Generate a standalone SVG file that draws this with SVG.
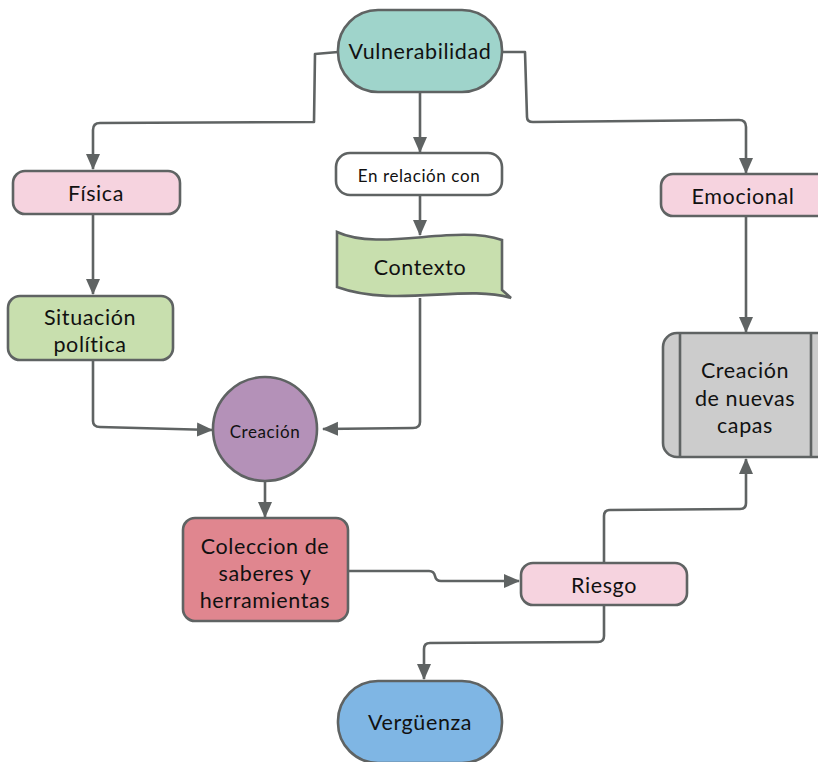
<svg xmlns="http://www.w3.org/2000/svg" width="818" height="762" viewBox="0 0 818 762">
  <style>
    .node { stroke: #5f6363; stroke-width: 2.6; }
    .edge { fill: none; stroke: #5f6363; stroke-width: 2.6; stroke-linejoin: round; }
    .lbl { font-family: Lato, "Noto Sans", "Liberation Sans", sans-serif; fill: #111; text-anchor: middle; dominant-baseline: central; letter-spacing: 0.6px; }
    .l20 { font-size: 21.5px; }
    .l16 { font-size: 17px; }
    .l14 { font-size: 17px; }
  </style>
  <defs>
    <marker id="arrow" markerUnits="userSpaceOnUse" markerWidth="16" markerHeight="16" viewBox="0 0 16 16" refX="15" refY="8" orient="auto">
      <path d="M0,1 L16,8 L0,15 Z" fill="#5f6363"/>
    </marker>
  </defs>

  <rect width="818" height="762" fill="#ffffff"/>

  <!-- connectors -->
  <g id="connectors">
    <path class="edge" d="M338,52 L315,54 L314,122 L100,123 Q93,123 93,130 L93,169" marker-end="url(#arrow)"/>
    <path class="edge" d="M420,92 L420,152" marker-end="url(#arrow)"/>
    <path class="edge" d="M502,52 L525,52 L527,117 Q527,122 533,122 L739,120 Q746,120 746,127 L746,173" marker-end="url(#arrow)"/>
    <path class="edge" d="M420,195 L420,235" marker-end="url(#arrow)"/>
    <path class="edge" d="M93,214 L93,294" marker-end="url(#arrow)"/>
    <path class="edge" d="M746,216 L746,332" marker-end="url(#arrow)"/>
    <path class="edge" d="M93,360 L93,421 Q93,427 100,427 L212,430" marker-end="url(#arrow)"/>
    <path class="edge" d="M420,298 L420,422 Q420,428 413,428 L323,429" marker-end="url(#arrow)"/>
    <path class="edge" d="M265,481 L265,517" marker-end="url(#arrow)"/>
    <path class="edge" d="M348,571 L429,571 Q434,571 435,576 Q436,581 441,581 L519,581" marker-end="url(#arrow)"/>
    <path class="edge" d="M604,563 L604,516 Q604,510 610,510 L740,509 Q746,509 746,503 L746,459" marker-end="url(#arrow)"/>
    <path class="edge" d="M604,605 L604,636 Q604,642 598,642 L430,643 Q424,643 424,649 L424,679" marker-end="url(#arrow)"/>
  </g>

  <g id="n-vulnerabilidad">
    <rect class="node" x="338" y="10" width="164" height="82" rx="40" fill="#9fd4cb"/>
    <text class="lbl l20" x="420" y="51">Vulnerabilidad</text>
  </g>

  <g id="n-fisica">
    <rect class="node" x="13" y="171" width="167" height="43" rx="12" fill="#f6d3df"/>
    <text class="lbl l20" x="96" y="193">Física</text>
  </g>

  <g id="n-relacion">
    <rect class="node" x="336" y="153" width="166" height="42" rx="14" fill="#ffffff"/>
    <text class="lbl l16" x="419" y="175">En relación con</text>
  </g>

  <g id="n-emocional">
    <rect class="node" x="661" y="174" width="170" height="42" rx="12" fill="#f6d3df"/>
    <text class="lbl l20" x="743" y="196">Emocional</text>
  </g>

  <g id="n-contexto">
    <path class="node" d="M337,232 C380,252 455,224 502,240 L502,290 L511,298 C465,284 395,308 337,287 Z" fill="#c8dfae"/>
    <text class="lbl l20" x="420" y="267">Contexto</text>
  </g>

  <g id="n-situacion">
    <rect class="node" x="8" y="296" width="165" height="64" rx="12" fill="#c8dfae"/>
    <text class="lbl l20" x="90" y="317">Situación</text>
    <text class="lbl l20" x="90" y="344">política</text>
  </g>

  <g id="n-capas">
    <rect class="node" x="663" y="333" width="170" height="124" rx="14" fill="#cccccc"/>
    <line class="node" x1="680" y1="333" x2="680" y2="457"/>
    <line class="node" x1="811" y1="333" x2="811" y2="457"/>
    <text class="lbl l20" x="745" y="370">Creación</text>
    <text class="lbl l20" x="745" y="398">de nuevas</text>
    <text class="lbl l20" x="745" y="425">capas</text>
  </g>

  <g id="n-creacion">
    <circle class="node" cx="265" cy="429" r="52" fill="#b491b8"/>
    <text class="lbl l14" x="265" y="431">Creación</text>
  </g>

  <g id="n-coleccion">
    <rect class="node" x="183" y="518" width="165" height="103" rx="12" fill="#e0868f"/>
    <text class="lbl l20" x="265" y="546">Coleccion de</text>
    <text class="lbl l20" x="265" y="573">saberes y</text>
    <text class="lbl l20" x="265" y="600">herramientas</text>
  </g>

  <g id="n-riesgo">
    <rect class="node" x="521" y="563" width="166" height="42" rx="12" fill="#f6d3df"/>
    <text class="lbl l20" x="604" y="585">Riesgo</text>
  </g>

  <g id="n-verguenza">
    <rect class="node" x="338" y="681" width="164" height="82" rx="40" fill="#7fb6e4"/>
    <text class="lbl l20" x="420" y="722">Vergüenza</text>
  </g>
</svg>
